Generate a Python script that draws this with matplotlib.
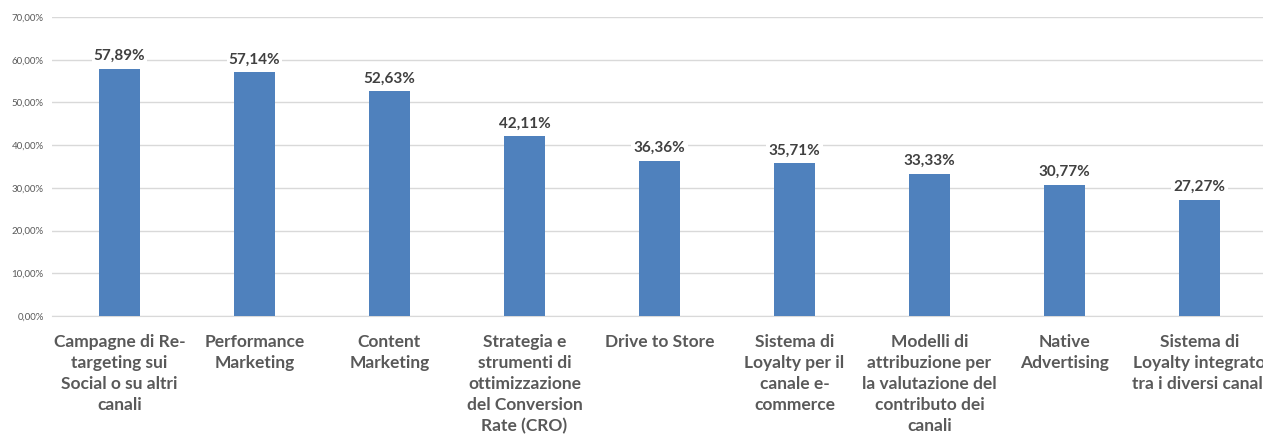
import matplotlib
matplotlib.use("Agg")
import matplotlib.pyplot as plt
import numpy as np

# share of respondents per initiative
categories = [
    "Campagne di Re-\ntargeting sui\nSocial o su altri\ncanali",
    "Performance\nMarketing",
    "Content\nMarketing",
    "Strategia e\nstrumenti di\nottimizzazione\ndel Conversion\nRate (CRO)",
    "Drive to Store",
    "Sistema di\nLoyalty per il\ncanale e-\ncommerce",
    "Modelli di\nattribuzione per\nla valutazione del\ncontributo dei\ncanali",
    "Native\nAdvertising",
    "Sistema di\nLoyalty integrato\ntra i diversi canali",
]
values = [57.89, 57.14, 52.63, 42.11, 36.36, 35.71, 33.33, 30.77, 27.27]
yticks = [0, 10, 20, 30, 40, 50, 60, 70]

BAR = "#4f81bd"
GRID = "#d9d9d9"
TXT = "#595959"

plt.rcParams["font.family"] = ["Lato", "DejaVu Sans"]

fig = plt.figure(figsize=(12.63, 4.37), dpi=100)
# plot area runs a little past the right edge, so the last label is cut
ax = fig.add_axes([52 / 1263, 1 - 316 / 437, 1215 / 1263, 299 / 437])

x = np.arange(len(values))
ax.bar(x, values, width=0.31, color=BAR, zorder=3)

for xi, v in zip(x, values):
    ax.text(xi, v + 1.3, f"{v:.2f}%".replace(".", ","), ha="center", va="bottom",
            fontsize=11, fontweight="bold", color="#404040", zorder=4,
            bbox=dict(facecolor="white", edgecolor="none", pad=1.5))

ax.set_xlim(-0.5, len(values) - 0.5)
ax.set_ylim(0, 70)
ax.set_yticks(yticks)
ax.set_yticklabels([f"{t:.2f}%".replace(".", ",") for t in yticks],
                   fontsize=7, color=TXT)
ax.yaxis.grid(True, color=GRID, lw=1, zorder=0)
ax.set_xticks(x)
ax.set_xticklabels(categories, fontsize=12.5, fontweight="bold", color=TXT,
                   linespacing=1.38, va="top")
ax.tick_params(axis="both", length=0)
ax.tick_params(axis="x", pad=13)
ax.tick_params(axis="y", pad=6)
for side in ["top", "right", "left"]:
    ax.spines[side].set_visible(False)
ax.spines["bottom"].set_color(GRID)

fig.savefig("out.png", dpi=100)
